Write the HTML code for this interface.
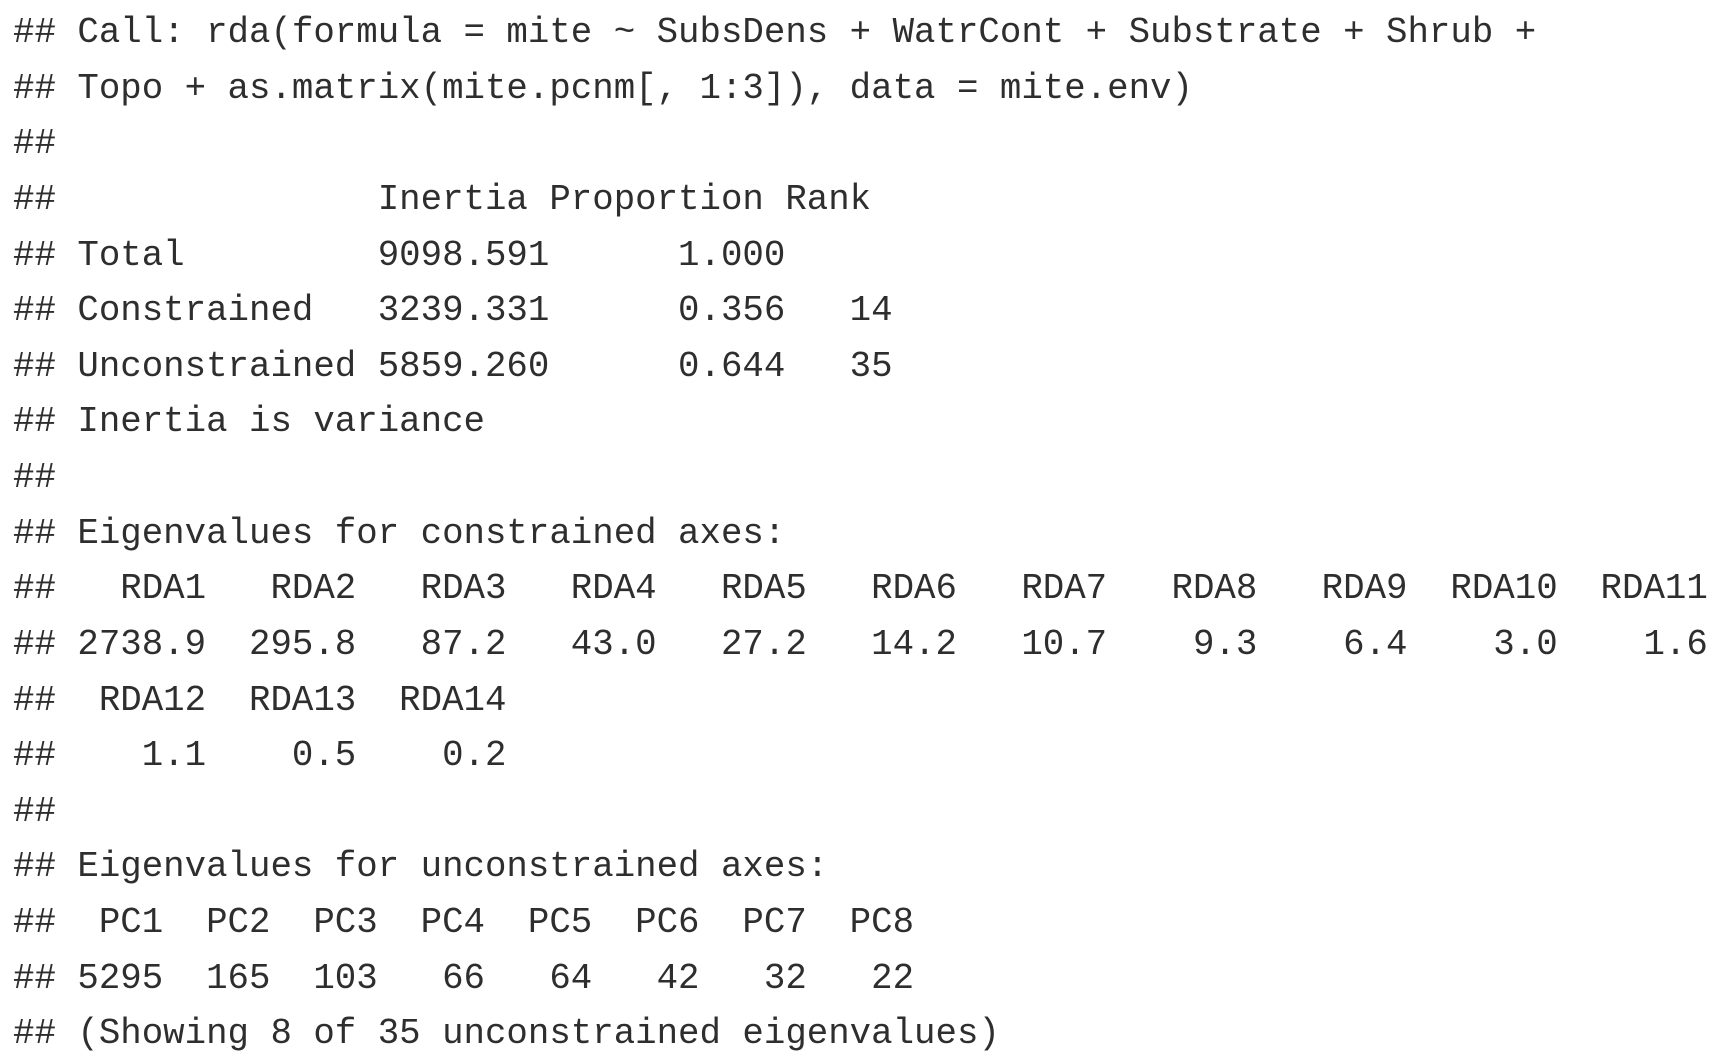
<!DOCTYPE html>
<html>
<head>
<meta charset="utf-8">
<style>
  html, body { margin: 0; padding: 0; background: #ffffff; }
  body { width: 1723px; height: 1063px; overflow: hidden; position: relative; }
  pre {
    position: absolute; left: 13px; top: 5px; margin: 0;
    font-family: "Liberation Mono", "DejaVu Sans Mono", monospace;
    font-size: 35.75px; line-height: 55.64px; color: #2e2e2e;
    white-space: pre;
  }
  .ln { display: block; height: 55.64px; }
</style>
</head>
<body>
<pre><span class="ln">## Call: rda(formula = mite ~ SubsDens + WatrCont + Substrate + Shrub +</span><span class="ln">## Topo + as.matrix(mite.pcnm[, 1:3]), data = mite.env)</span><span class="ln">##</span><span class="ln">##               Inertia Proportion Rank</span><span class="ln">## Total         9098.591      1.000</span><span class="ln">## Constrained   3239.331      0.356   14</span><span class="ln">## Unconstrained 5859.260      0.644   35</span><span class="ln">## Inertia is variance</span><span class="ln">##</span><span class="ln">## Eigenvalues for constrained axes:</span><span class="ln">##   RDA1   RDA2   RDA3   RDA4   RDA5   RDA6   RDA7   RDA8   RDA9  RDA10  RDA11</span><span class="ln">## 2738.9  295.8   87.2   43.0   27.2   14.2   10.7    9.3    6.4    3.0    1.6</span><span class="ln">##  RDA12  RDA13  RDA14</span><span class="ln">##    1.1    0.5    0.2</span><span class="ln">##</span><span class="ln">## Eigenvalues for unconstrained axes:</span><span class="ln">##  PC1  PC2  PC3  PC4  PC5  PC6  PC7  PC8</span><span class="ln">## 5295  165  103   66   64   42   32   22</span><span class="ln">## (Showing 8 of 35 unconstrained eigenvalues)</span></pre>
</body>
</html>
